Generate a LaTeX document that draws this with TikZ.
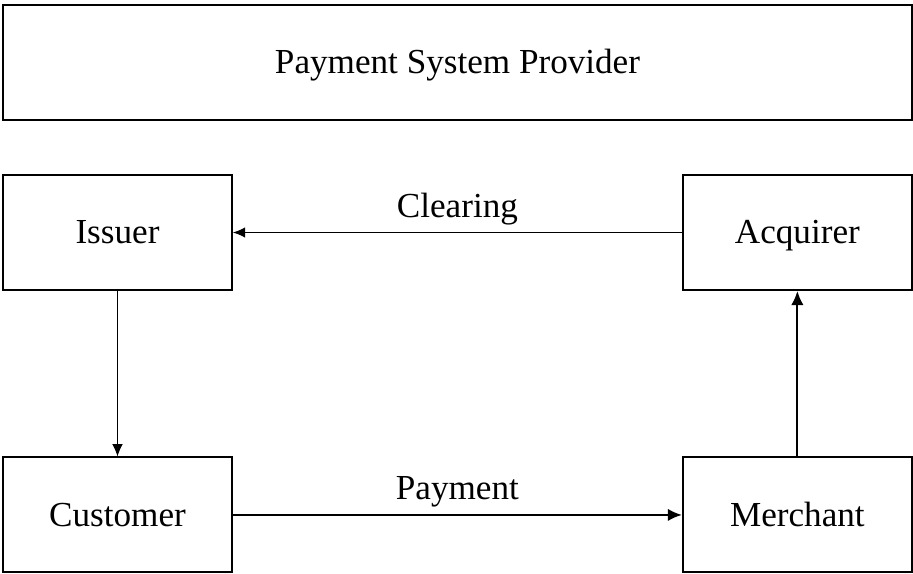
\documentclass[tikz,border=0pt]{standalone}
\usepackage{fontspec}
\setmainfont{Liberation Serif}
\usetikzlibrary{positioning,arrows.meta}

\begin{document}
\begin{tikzpicture}[x=0.02cm,y=-0.02cm,on grid,
  party/.style={draw,line width=1.1pt,minimum width=4.58cm,minimum height=2.3cm,
    inner sep=0pt,text height=14pt,text depth=1pt,font=\fontsize{20}{24}\selectfont},
  flow/.style={line width=0.6pt,-{Latex[length=7pt,width=6pt]}},
  heavy/.style={line width=1.1pt,-{Latex[length=8pt,width=7pt]}},
  tag/.style={font=\fontsize{20}{24}\selectfont,inner sep=2pt}]
  \useasboundingbox (0,0) rectangle (913,574);
  \node[party,minimum width=18.18cm] (psp) at (457.5,62.5) {Payment System Provider};
  \node[party] (issuer) at (117.5,232.5) {Issuer};
  \node[party] (acquirer) [right=13.6cm of issuer] {Acquirer};
  \node[party] (customer) [below=5.65cm of issuer] {Customer};
  \node[party] (merchant) [right=13.6cm of customer] {Merchant};
  \draw[flow] (acquirer) -- node[tag,above=2pt] {Clearing} (issuer);
  \draw[flow] (issuer) -- (customer);
  \draw[heavy] (customer) -- node[tag,above=2pt] {Payment} (merchant);
  \draw[heavy] (merchant) -- (acquirer);
\end{tikzpicture}
\end{document}
